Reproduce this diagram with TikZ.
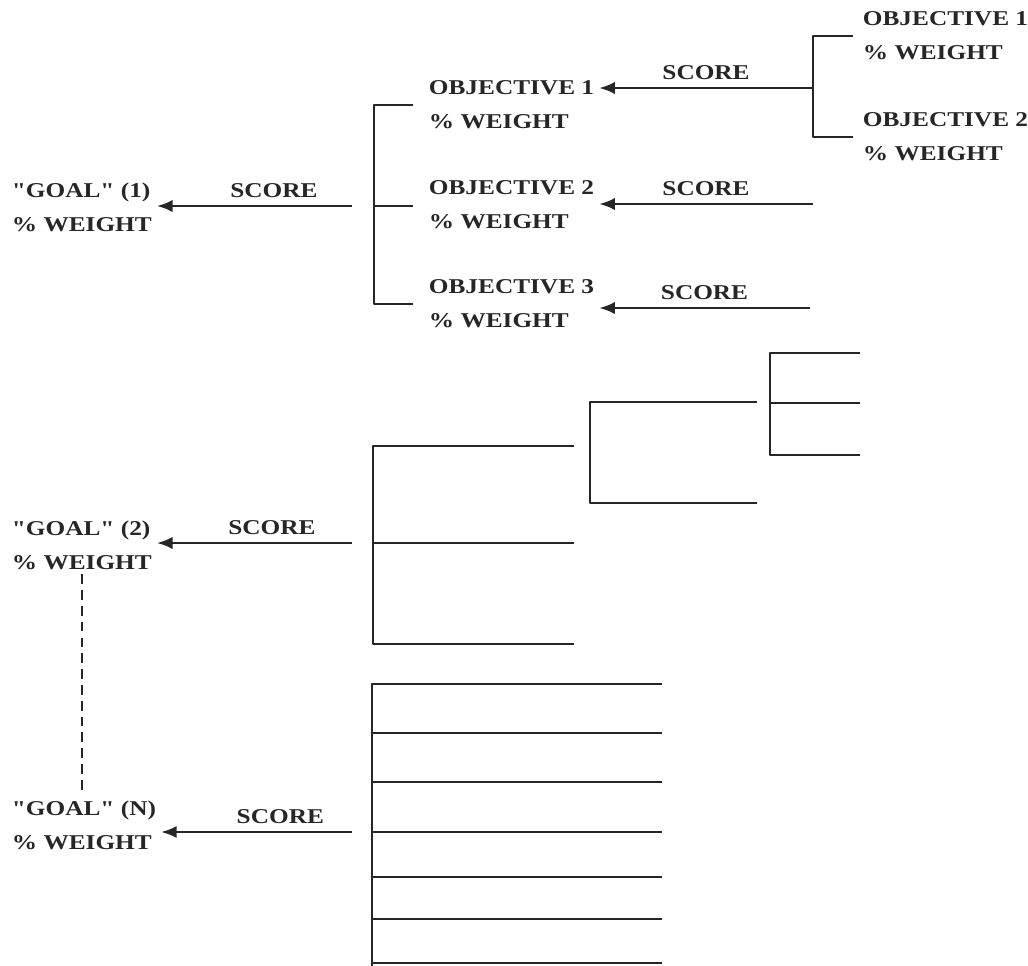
\documentclass[tikz,border=0pt]{standalone}
\usepackage{fontspec}
\setmainfont{Liberation Serif}[FakeStretch=1.2, Ligatures=TeXOff]
\usetikzlibrary{arrows.meta,positioning}
\begin{document}
\begin{tikzpicture}[x=0.02cm,y=-0.02cm,>={Latex[length=9pt,width=7pt]}, line join=round, line width=1.6pt, color=black!85,
	lbl/.style={font=\bfseries\fontsize{12}{19.3}\selectfont, align=left, inner sep=2pt, anchor=west},
	sc/.style={font=\bfseries\fontsize{12}{14}\selectfont, inner sep=1pt, above=3pt}]
		\useasboundingbox (0,0) rectangle (1028,965);
		\def\bx{373} \def\ax{352}
		% goals
		\node[lbl] (goal1) at (7,207) {"GOAL" (1)\\\% WEIGHT};
		\node[lbl] (goal2) at (7,545) {"GOAL" (2)\\\% WEIGHT};
		\node[lbl] (goalN) at (7,825) {"GOAL" (N)\\\% WEIGHT};
		\draw[dashed, dash pattern=on 5.5pt off 3.5pt, line width=1.3pt] (goal2.south) -- (goal2.south |- goalN.north);
		% objectives of goal 1
		\node[lbl] (obj1) at (424,105) {OBJECTIVE 1\\\% WEIGHT};
		\node[lbl] (obj2) at (424,205) {OBJECTIVE 2\\\% WEIGHT};
		\node[lbl] (obj3) at (424,304) {OBJECTIVE 3\\\% WEIGHT};
		\node[lbl] (sub1) at (858,36) {OBJECTIVE 1\\\% WEIGHT};
		\node[lbl] (sub2) at (858,137) {OBJECTIVE 2\\\% WEIGHT};
		% scores
		\coordinate (g1) at (\ax,206);
		\coordinate (g2) at (\ax,543);
		\coordinate (gN) at (\ax,832);
		\coordinate (s1) at (813,88);
		\coordinate (s2) at (813,204);
		\coordinate (s3) at (810,308);
		\draw[->] (g1)--node[sc,pos=0.4]{SCORE}(g1 -| goal1.east);
		\draw[->] (g2)--node[sc,pos=0.41]{SCORE}(g2 -| goal2.east);
		\draw[->] (gN)--node[sc,pos=0.375]{SCORE}(gN -| goalN.east);
		\draw[->] (s1)--node[sc,pos=0.5]{SCORE}(s1 -| obj1.east);
		\draw[->] (s2)--node[sc,pos=0.5]{SCORE}(s2 -| obj2.east);
		\draw[->] (s3)--node[sc,pos=0.5]{SCORE}(s3 -| obj3.east);
		% brackets
		\coordinate (b1) at (\bx+1,206);
		\draw ([xshift=-6pt]obj1.west) -| (b1) |- ([xshift=-6pt]obj3.west);
		\draw (b1) -- ([xshift=-6pt]obj2.west |- b1);
		\draw ([xshift=-3pt]sub1.west) -| (s1) |- ([xshift=-3pt]sub2.west);
		% goal 2 tree
		\coordinate (b2) at (\bx,543);
		\draw (574,446) -| (b2) |- (574,644);
		\draw (b2) -- (574,543);
		\draw (757,402) -| (590,503) -- (757,503);
		\draw (860,353) -| (770,455) -- (860,455);
		\draw (770,403) -- (860,403);
		% goal N tree
		\coordinate (bN) at (\bx-1,832);
		\draw (662,684) -| (bN) -- (\bx-1,966);
		\foreach \y in {733,782,832,877,919,963} \draw (\bx-1,\y) -- (662,\y);
\end{tikzpicture}
\end{document}
